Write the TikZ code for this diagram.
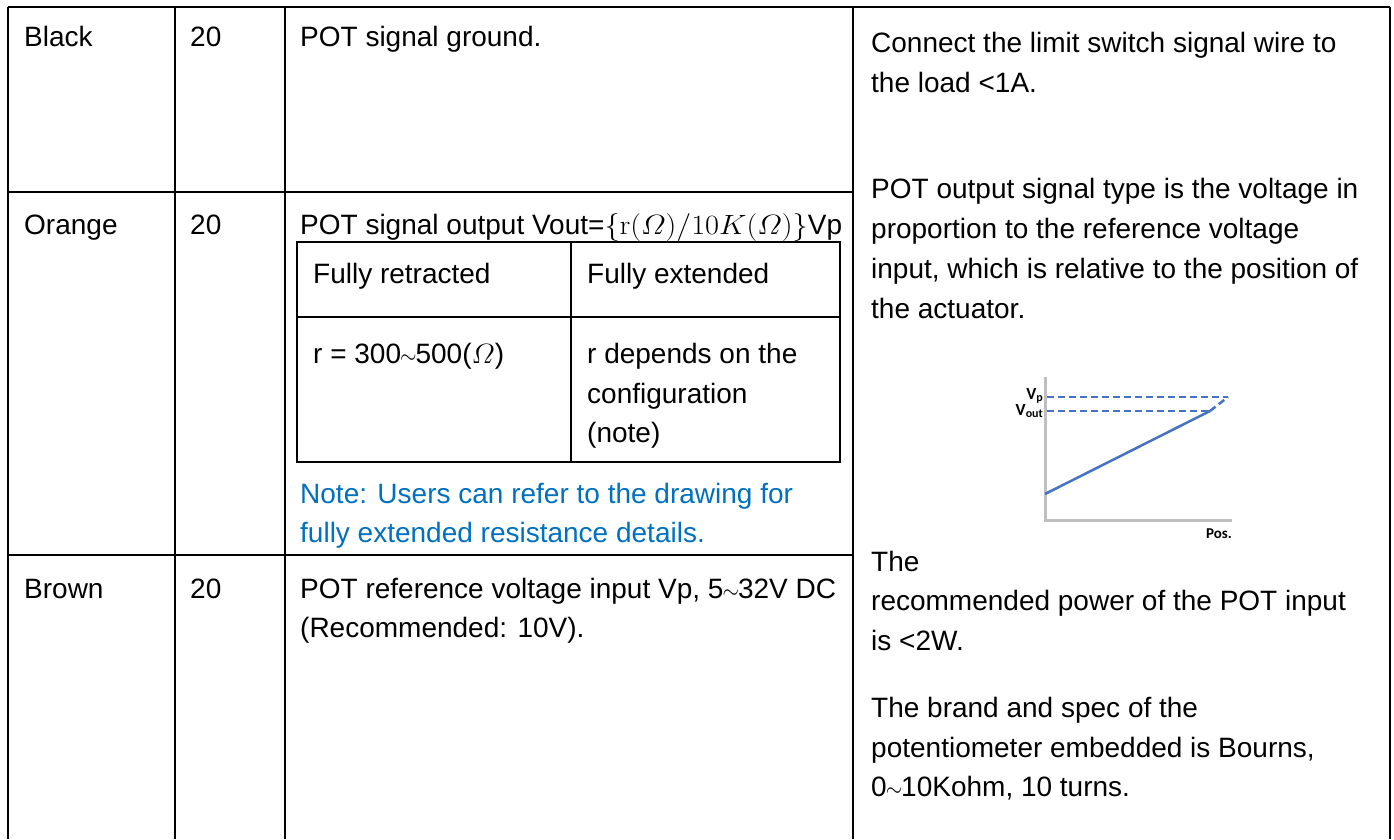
\documentclass[tikz,border=0pt]{standalone}
\usepackage{amsmath}
\usepackage{graphicx}
\usepackage[no-math]{fontspec}
\setmainfont{Liberation Sans}
\newfontfamily\chartfont{Carlito}
\definecolor{noteblue}{HTML}{0070C0}
\definecolor{lineblue}{HTML}{4472C4}
\definecolor{axisgray}{HTML}{BFBFBF}
\newcommand\bodysize{\fontsize{28}{39}\selectfont}
\newcommand\tld{\kern-1pt\scalebox{0.85}[0.95]{$\sim$}\kern-1pt}
\newcommand\ohm{\scalebox{1.15}[1.12]{$\varOmega$}}
\tikzset{
  txt/.style={anchor=base west, inner sep=0pt, font=\bodysize},
  note/.style={txt, text=noteblue},
  rule/.style={line width=2pt, black},
  axis/.style={line width=3pt, axisgray},
  curve/.style={line width=2.5pt, lineblue},
  guide/.style={line width=2.5pt, lineblue, dash pattern=on 7pt off 4pt},
  lbl/.style={inner sep=0pt, font=\chartfont\bfseries\fontsize{17}{17}\selectfont},
}
\begin{document}
\begin{tikzpicture}[x=1pt, y=-1pt]
\useasboundingbox (0,0) rectangle (1394,839);
\fill[white] (0,0) rectangle (1394,839);

% outer grid
\draw[rule] (8,7) -- (1390,7);
\foreach \cx in {8,175,285,853,1390} \draw[rule] (\cx,7) -- (\cx,839);
\draw[rule] (8,192) -- (853,192);
\draw[rule] (8,555) -- (853,555);

% inner table
\draw[rule] (297,242) rectangle (840,462);
\draw[rule] (571,242) -- (571,462);
\draw[rule] (297,317) -- (840,317);

% row: black
\node[txt] (c1a) at (24,46) {Black};
\node[txt] (c2a) at (190,46) {20};
\node[txt] (c3a) at (300,46) {POT signal ground.};

% row: orange
\node[txt] (c1b) at (24,234) {Orange};
\node[txt] (c2b) at (190,234) {20};
\node[txt] (c3b) at (300,234) {POT signal output Vout=\scalebox{1.22}[1.12]{$\{\mathrm{r}(\varOmega)/10K(\varOmega)\}$}Vp};
\node[txt] (t11) at (313,283) {Fully retracted};
\node[txt] (t12) at (587,283) {Fully extended};
\node[txt] (t21) at (313,363) {r = 300\tld500(\ohm)};
\node[txt] (t22a) at (587,363) {r depends on the};
\node[txt] (t22b) at (587,403) {configuration};
\node[txt] (t22c) at (587,442) {(note)};
\node[note] (n1) at (300,503) {Note: Users can refer to the drawing for};
\node[note] (n2) at (300,542) {fully extended resistance details.};

% row: brown
\node[txt] (c1c) at (24,598) {Brown};
\node[txt] (c2c) at (190,598) {20};
\node[txt] (c3c) at (300,598) {POT reference voltage input Vp, 5\tld32V DC};
\node[txt] (c3d) at (300,637) {(Recommended: 10V).};

% merged remarks column
\node[txt] (r1) at (871,52) {Connect the limit switch signal wire to};
\node[txt] (r2) at (871,92) {the load <1A.};
\node[txt] (r3) at (871,198) {POT output signal type is the voltage in};
\node[txt] (r4) at (871,238) {proportion to the reference voltage};
\node[txt] (r5) at (871,278) {input, which is relative to the position of};
\node[txt] (r6) at (871,318) {the actuator.};
\node[txt] (r7) at (871,571) {The};
\node[txt] (r8) at (871,610) {recommended power of the POT input};
\node[txt] (r9) at (871,650) {is <2W.};
\node[txt] (r10) at (871,717) {The brand and spec of the};
\node[txt] (r11) at (871,757) {potentiometer embedded is Bourns,};
\node[txt] (r12) at (871,796) {0\tld10Kohm, 10 turns.};

% output curve
\coordinate (o) at (1045,520);
\coordinate (ytop) at (1045,377);
\coordinate (xend) at (1232,520);
\coordinate (start) at (1045,494);
\coordinate (vout) at (1210,411);
\coordinate (vp) at (1228,397);
\draw[axis] (ytop) -- (o) -- (xend);
\draw[guide] (1047,397) -- (vp);
\draw[guide] (1047,411) -- (vout);
\draw[curve] (start) -- (vout);
\draw[guide] (vout) -- (vp);
\node[lbl, anchor=east] (lvp) at (1043,396) {V\raisebox{-0.15ex}{\fontsize{12}{12}\selectfont p}};
\node[lbl, anchor=east] (lvo) at (1043,411) {V\raisebox{-0.15ex}{\fontsize{12}{12}\selectfont out}};
\node[lbl, font=\chartfont\bfseries\fontsize{15}{15}\selectfont] (lpos) at (1219,534) {Pos.};
\end{tikzpicture}
\end{document}
